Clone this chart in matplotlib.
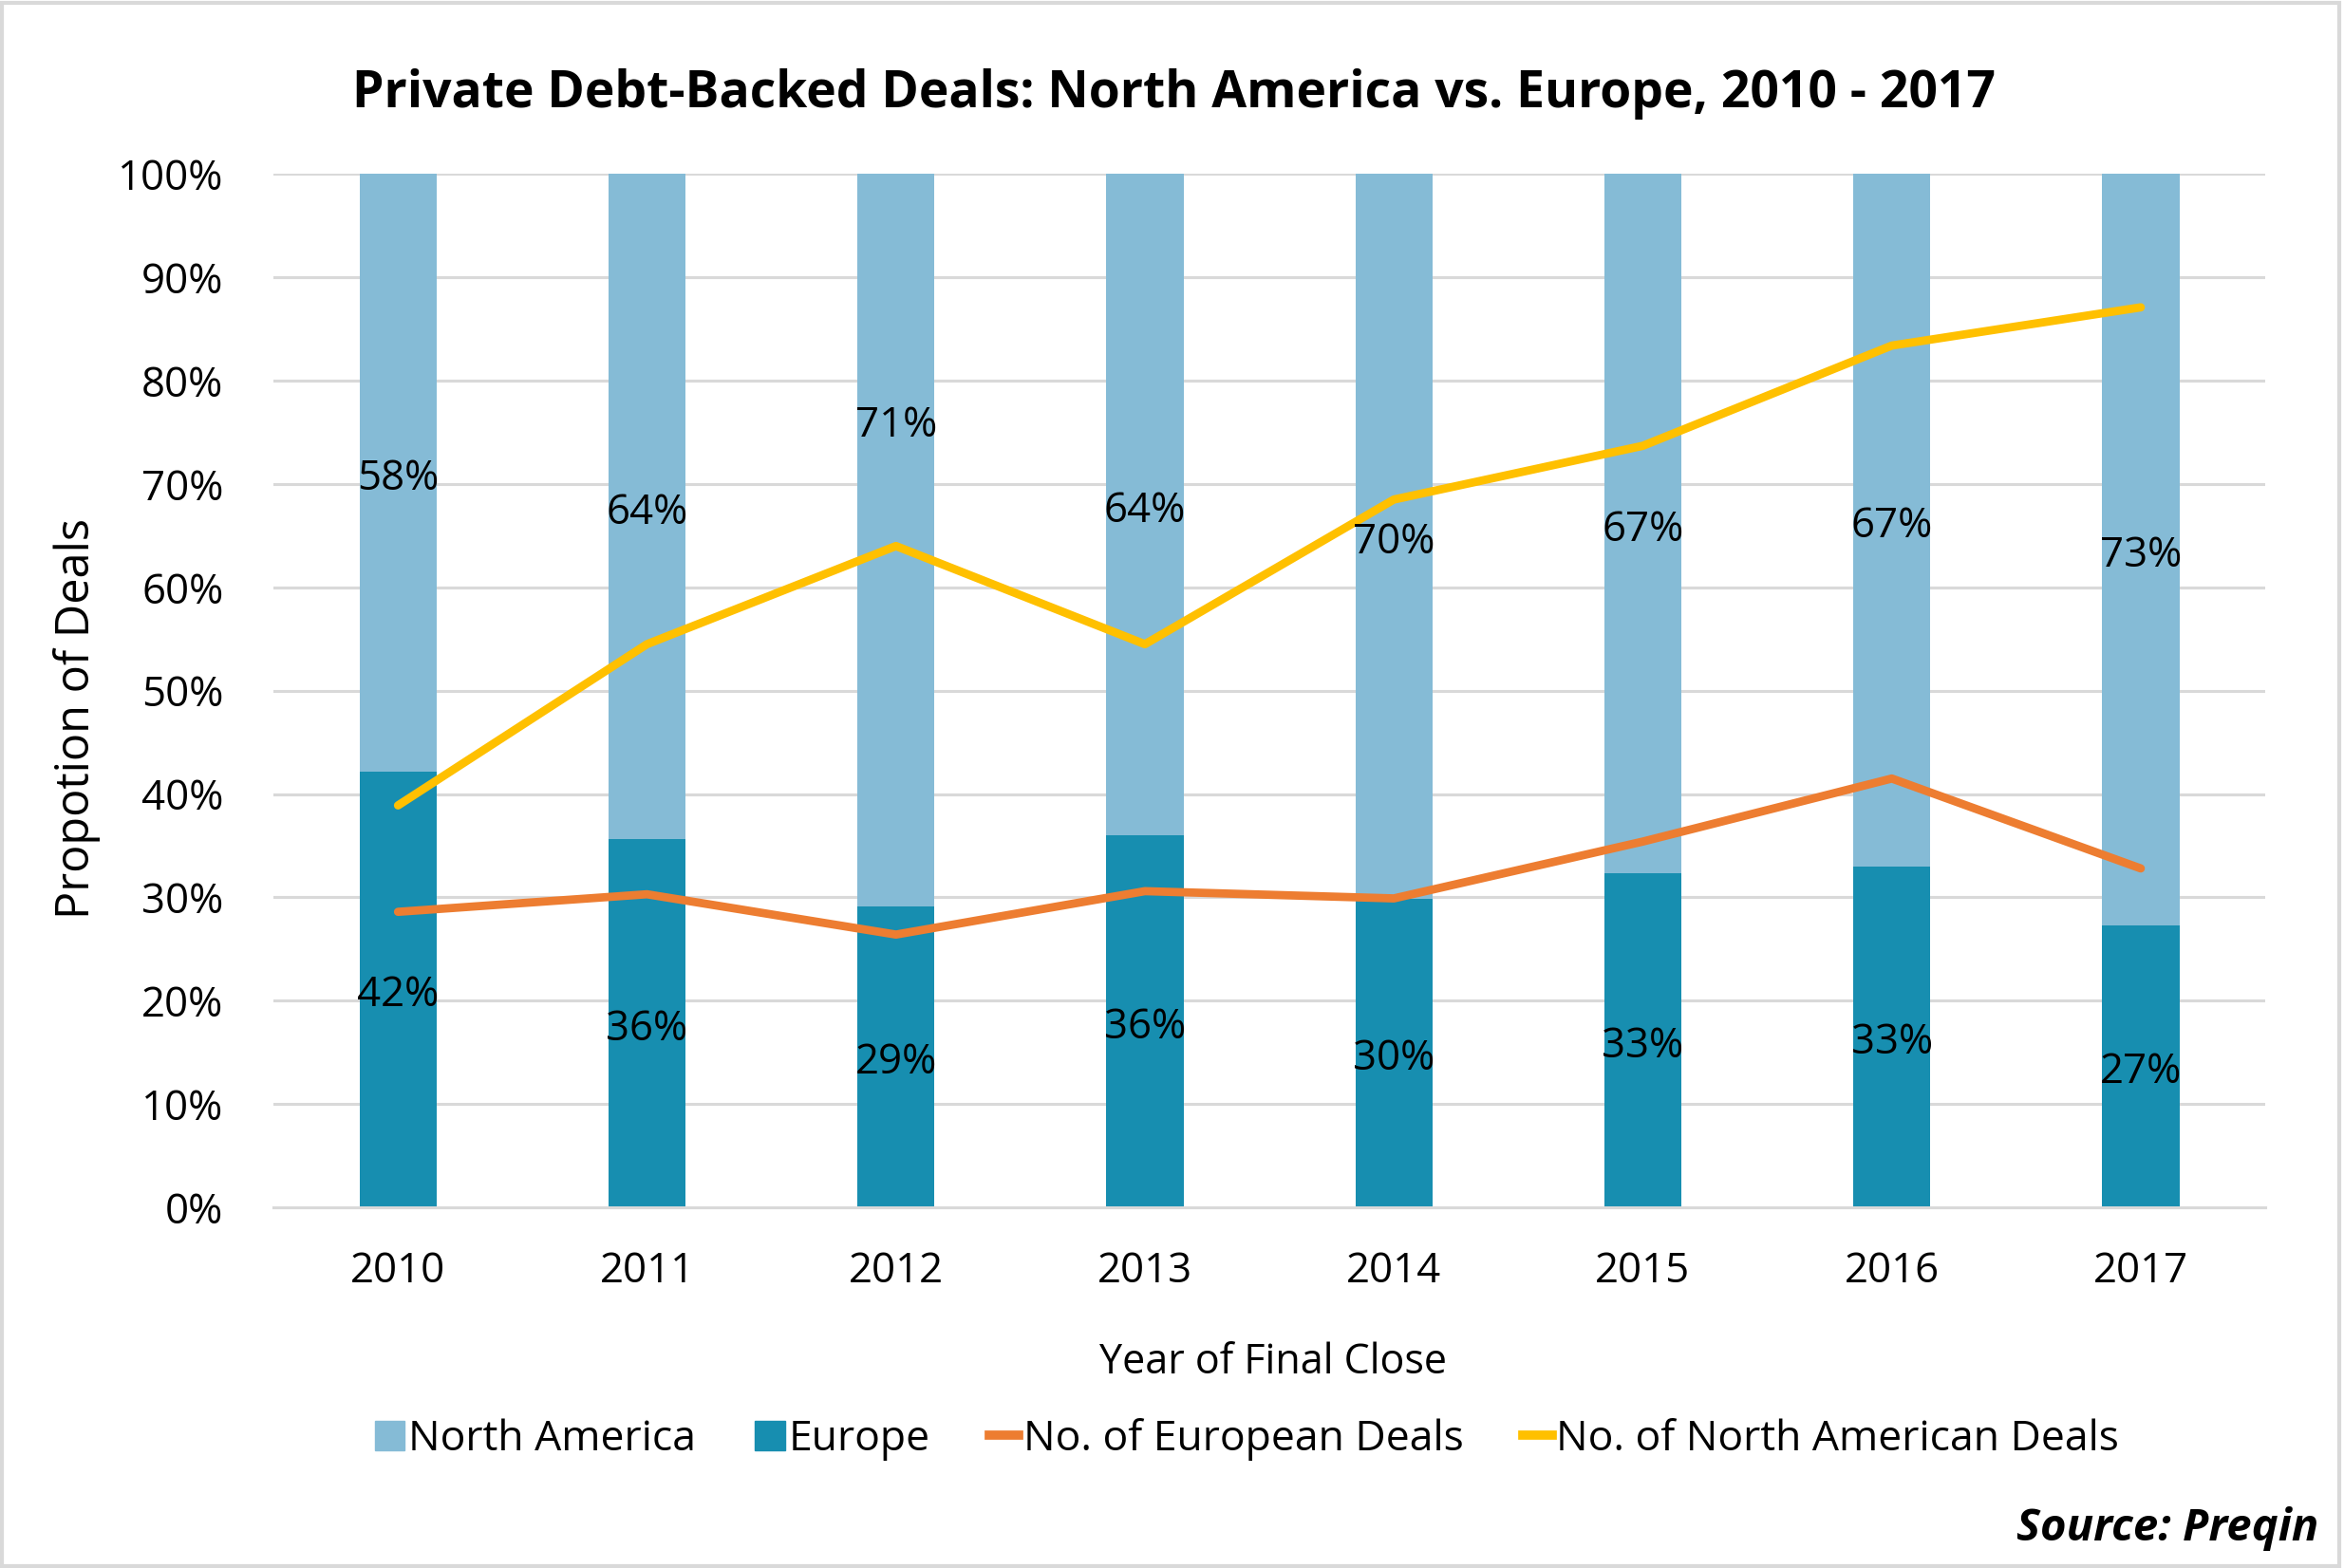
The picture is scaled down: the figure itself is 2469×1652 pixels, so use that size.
import matplotlib
matplotlib.use("Agg")
import matplotlib.pyplot as plt
from matplotlib.patches import Rectangle, Patch
from matplotlib.lines import Line2D
import numpy as np

years = ["2010", "2011", "2012", "2013", "2014", "2015", "2016", "2017"]
europe = [42.2, 35.6, 29.1, 36.0, 29.9, 32.3, 33.0, 27.3]
north_america = [57.8, 64.4, 70.9, 64.0, 70.1, 67.7, 67.0, 72.7]
europe_labels = ["42%", "36%", "29%", "36%", "30%", "33%", "33%", "27%"]
na_labels = ["58%", "64%", "71%", "64%", "70%", "67%", "67%", "73%"]
eu_deals = [28.6, 30.3, 26.4, 30.6, 29.9, 35.4, 41.5, 32.8]
na_deals = [38.9, 54.5, 64.0, 54.5, 68.5, 73.7, 83.4, 87.1]

plt.rcParams['font.family'] = ['Open Sans', 'DejaVu Sans']

C_NA = "#85BBD6"
C_EU = "#178EB0"
C_OR = "#ED7D31"
C_YE = "#FFC000"

fig = plt.figure(figsize=(24.69, 16.52), dpi=100)
ax = fig.add_axes([0.1167, 0.230, 0.8497, 0.659])

x = np.arange(len(years))
w = 0.31
ax.bar(x, europe, w, color=C_EU, zorder=2)
ax.bar(x, north_america, w, bottom=europe, color=C_NA, zorder=2)
ax.plot(x, eu_deals, color=C_OR, lw=6.3, zorder=3, solid_capstyle='round')
ax.plot(x, na_deals, color=C_YE, lw=6.3, zorder=3, solid_capstyle='round')

fs = 31.5
dy = 0.6
for i in range(len(years)):
    ax.text(x[i], europe[i] / 2 - dy, europe_labels[i], ha='center', va='center',
            fontsize=fs, zorder=4)
    yc = europe[i] + north_america[i] / 2
    if years[i] == "2012":
        yc = 76.2
    ax.text(x[i], yc - dy, na_labels[i], ha='center', va='center', fontsize=fs, zorder=4)

ax.set_xlim(-0.5, len(years) - 0.5)
ax.set_ylim(0, 100)
ax.set_yticks(np.arange(0, 101, 10))
ax.set_yticklabels([f"{v}%" for v in range(0, 101, 10)])
ax.set_xticks(x)
ax.set_xticklabels(years)
ax.tick_params(axis='both', length=0, labelsize=fs, colors='black')
ax.tick_params(axis='y', pad=38)
ax.tick_params(axis='x', pad=33)
ax.grid(axis='y', color='#D9D9D9', lw=2.2, zorder=0)
ax.set_axisbelow(True)
for s in ['top', 'right', 'left']:
    ax.spines[s].set_visible(False)
ax.spines['bottom'].set_color('#D9D9D9')
ax.spines['bottom'].set_linewidth(2.2)

fig.text(0.033, 0.542, "Propotion of Deals", rotation=90, ha='center', va='center', fontsize=35)
fig.text(0.543, 0.131, "Year of Final Close", ha='center', va='center', fontsize=31)
fig.text(0.501, 0.940, "Private Debt-Backed Deals: North America vs. Europe, 2010 - 2017",
         ha='center', va='center', fontsize=38.5, fontweight='bold')
fig.text(0.989, 0.025, "Source: Preqin", ha='right', va='center', fontsize=34,
         fontweight='bold', fontstyle='italic')

handles = [Patch(color=C_NA), Patch(color=C_EU),
           Line2D([], [], color=C_OR, lw=7), Line2D([], [], color=C_YE, lw=7)]
labels = ["North America", "Europe", "No. of European Deals", "No. of North American Deals"]
fig.legend(handles, labels, loc='center', bbox_to_anchor=(0.532, 0.082), ncol=4,
           frameon=False, fontsize=32, handlelength=0.7, handletextpad=0.1,
           columnspacing=1.4)

fig.patches.append(Rectangle((0.001, 0.001), 0.997, 0.997, transform=fig.transFigure,
                             fill=False, edgecolor='#D9D9D9', lw=3))

fig.savefig("out.png", dpi=100, facecolor='white')
